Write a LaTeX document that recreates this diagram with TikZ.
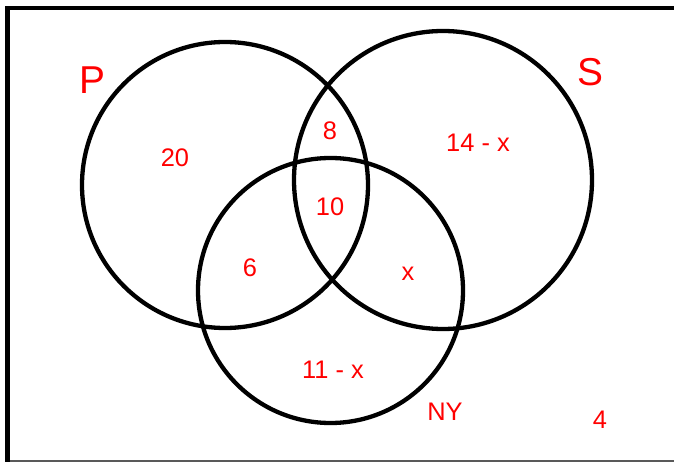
\documentclass[tikz,border=0pt]{standalone}
\usepackage{fontspec}
\setmainfont{Liberation Sans}
\begin{document}
\begin{tikzpicture}[x=1bp,y=-1bp,
  setcirc/.style={circle, draw=black, line width=4.3bp, inner sep=0pt},
  lab/.style={text=red, font=\fontsize{25.5}{27}\selectfont, inner sep=0pt},
  biglab/.style={text=red, font=\fontsize{39}{41}\selectfont, inner sep=0pt}]
\useasboundingbox (0,0) rectangle (674,462);
% frame
\coordinate (tl) at (7.5,8);
\coordinate (tr) at (674,8);
\coordinate (bl) at (7.5,462);
\coordinate (bl2) at (7.5,461);
\coordinate (br2) at (674,461);
\draw[line width=2bp, gray!70!black] (bl2) -- (br2);
\draw[line width=4.5bp, line cap=rect] (bl) -- (tl) -- (tr);
% circles
\node[setcirc, minimum size=286bp] (P) at (225,185) {};
\node[setcirc, minimum size=298bp] (S) at (443,180) {};
\node[setcirc, minimum size=265bp] (NY) at (330.5,290.5) {};
% labels
\node[biglab] (lP) at (92,80) {P};
\node[biglab] (lS) at (590,72) {S};
\node[lab] (l20) at (175,158) {20};
\node[lab] (l8) at (330,131) {8};
\node[lab] (l14) at (478,143) {14 - x};
\node[lab] (l10) at (330,207) {10};
\node[lab] (l6) at (250,268) {6};
\node[lab] (lx) at (408,274) {x};
\node[lab] (l11) at (333,370) {11 - x};
\node[lab] (lNY) at (445,412) {NY};
\node[lab] (l4) at (600,420) {4};
\end{tikzpicture}
\end{document}
